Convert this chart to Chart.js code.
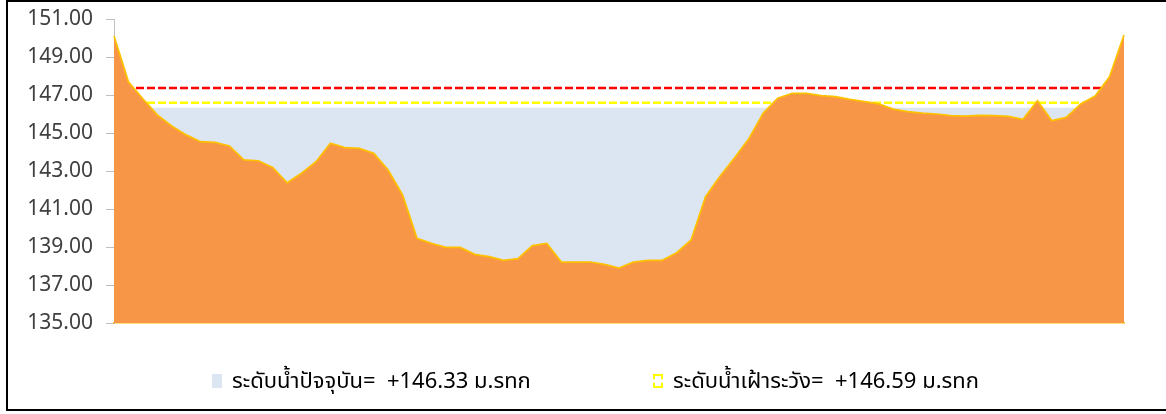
<!DOCTYPE html>
<html lang="th">
<head>
    <meta charset="UTF-8">
    <title>ระดับน้ำ</title>
    <script src="https://cdn.jsdelivr.net/npm/chart.js@4.4.1/dist/chart.umd.min.js"></script>
    <style>
        body { margin: 0; background: #fff; }
        #wrap { position: relative; width: 1166px; height: 414px; overflow: hidden; }
        #chart { position: absolute; left: 0; top: 0; }
        #frame {
            position: absolute; left: 6px; top: 0; width: 1160px; height: 411px;
            border-left: 2px solid #000; border-top: 2px solid #000; border-bottom: 2px solid #000;
            box-sizing: border-box; pointer-events: none;
        }
        .leg { position: absolute; top: 364px; display: flex; align-items: center;
               font-family: "Noto Sans", "Noto Sans Thai", sans-serif; font-size: 22px; color: #000; white-space: nowrap; }
        .leg .box { width: 10px; height: 14px; margin-right: 10px; box-sizing: border-box; }
    </style>
</head>
<body>
<div id="wrap">
    <canvas id="chart" width="1166" height="414"></canvas>
    <div id="frame"></div>
    <div id="legend"></div>
</div>

<script>
    // cross section stations (left bank -> right bank)
    const stations = ['0','1','2','3','4','5','6','7','8','9','10','11','12','13','14','15','16','17','18','19',
        '20','21','22','23','24','25','26','27','28','29','30','31','32','33','34','35','36','37','38','39',
        '40','41','42','43','44','45','46','47','48','49','50','51','52','53','54','55','56','57','58','59',
        '60','61','62','63','64','65','66','67','68','69','70']

    // ground / river bed level (m. MSL)
    const bedLevel = [150.10, 147.70, 146.80, 145.95, 145.37, 144.90, 144.54, 144.51, 144.32, 143.58,
        143.54, 143.19, 142.38, 142.88, 143.49, 144.46, 144.23, 144.19, 143.93, 143.05,
        141.74, 139.46, 139.19, 138.98, 138.98, 138.61, 138.49, 138.30, 138.39, 139.07,
        139.19, 138.21, 138.21, 138.21, 138.09, 137.89, 138.21, 138.30, 138.30, 138.70,
        139.37, 141.65, 142.72, 143.68, 144.70, 146.05, 146.83, 147.09, 147.09, 146.97,
        146.91, 146.77, 146.65, 146.53, 146.26, 146.12, 146.04, 146.00, 145.91, 145.89,
        145.93, 145.91, 145.88, 145.72, 146.70, 145.65, 145.82, 146.53, 146.95, 147.96,
        150.16]

    const levelNames = ['ระดับน้ำปัจจุบัน', 'ระดับน้ำเฝ้าระวัง', 'ระดับน้ำวิกฤต']
    const levelValues = [146.33, 146.59, 147.37]

    const yMin = 135
    const yMax = 151
    const yStep = 2

    const first = stations[0]
    const last = stations[stations.length - 1]
    const flat = v => [{x: first, y: v}, {x: last, y: v}]

    const ctx = document.getElementById('chart').getContext('2d')

    const myChart = new Chart(ctx, {
        type: 'line',
        data: {
            labels: stations,
            datasets: [{
                label: 'ระดับท้องน้ำ',
                data: bedLevel,
                fill: 'start',
                backgroundColor: '#F79646',
                borderColor: '#FFC000',
                borderWidth: 1.75,
                pointRadius: 0,
                order: 0
            }, {
                label: levelNames[2],
                data: flat(levelValues[2]),
                fill: false,
                borderColor: '#FF0000',
                borderWidth: 2.5,
                borderDash: [8, 3],
                pointRadius: 0,
                order: 1
            }, {
                label: levelNames[1],
                data: flat(levelValues[1]),
                fill: false,
                borderColor: '#FFFF00',
                backgroundColor: '#FFFFFF',
                borderWidth: 2.5,
                borderDash: [8, 3],
                pointRadius: 0,
                order: 2,
                inLegend: true
            }, {
                label: levelNames[0],
                data: flat(levelValues[0]),
                fill: 'start',
                backgroundColor: '#DCE6F2',
                borderColor: '#DCE6F2',
                borderWidth: 0,
                pointRadius: 0,
                order: 3,
                inLegend: true
            }]
        },
        options: {
            responsive: false,
            animation: false,
            layout: { padding: { left: 0, right: 42, top: 19, bottom: 91 } },
            plugins: { legend: { display: false }, tooltip: { enabled: false } },
            scales: {
                x: {
                    ticks: { display: false },
                    grid: { display: false },
                    border: { display: true, color: '#FFC000', width: 1.5 },
                    afterFit: s => { s.height = 0 }
                },
                y: {
                    min: yMin,
                    max: yMax,
                    ticks: {
                        stepSize: yStep,
                        padding: 13,
                        color: '#404040',
                        font: { family: 'Noto Sans', size: 21 },
                        callback: v => v.toFixed(2)
                    },
                    grid: { drawOnChartArea: false, drawTicks: true, tickLength: 8, color: '#BFBFBF' },
                    border: { display: true, color: '#BFBFBF', width: 1 },
                    // fixed axis width, and no extra top room for the first label
                    afterFit: s => { s.width = 114; s.paddingTop = 0; s.paddingBottom = 0 }
                }
            }
        }
    })

    // legend (Excel style, two items far apart)
    const legendLeft = [212, 653]
    const legend = document.getElementById('legend')
    myChart.data.datasets.filter(d => d.inLegend).reverse().forEach((d, i) => {
        const item = document.createElement('div')
        item.className = 'leg'
        item.style.left = legendLeft[i] + 'px'
        const box = document.createElement('span')
        box.className = 'box'
        box.style.background = d.backgroundColor
        if (d.borderDash) {
            box.style.border = '2px dashed ' + d.borderColor
        }
        const txt = document.createElement('span')
        txt.textContent = d.label + '=  +' + d.data[0].y.toFixed(2) + ' ม.รทก'
        txt.style.whiteSpace = 'pre'
        item.appendChild(box)
        item.appendChild(txt)
        legend.appendChild(item)
    })
</script>
</body>
</html>
